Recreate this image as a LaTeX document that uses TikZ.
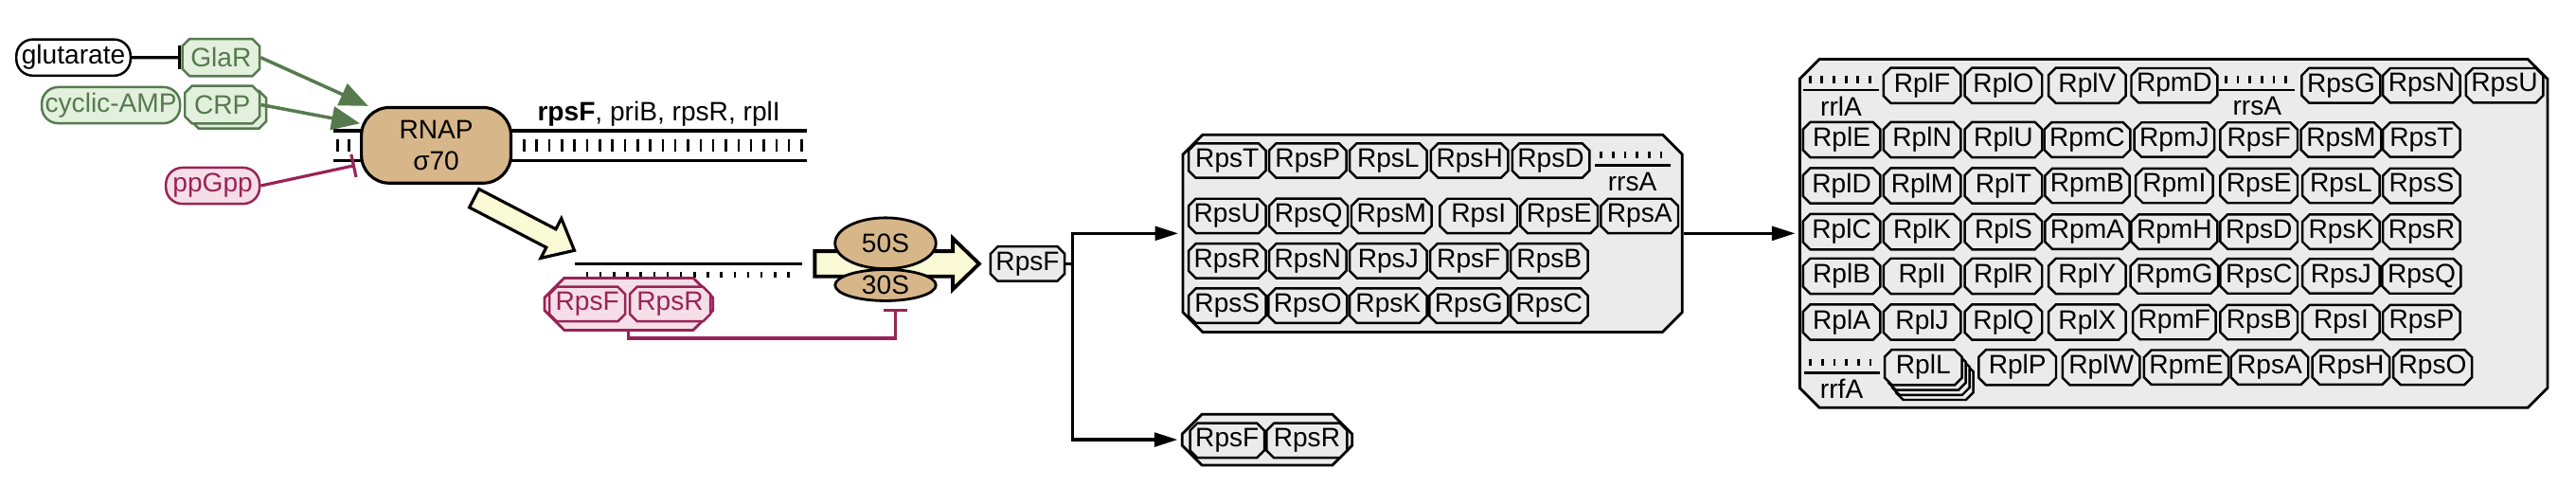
\documentclass[tikz,border=0pt]{standalone}
\usepackage{fontspec}
\setmainfont{Liberation Sans}
\usetikzlibrary{arrows.meta, shapes.misc, shapes.geometric, calc}
\definecolor{cverde}{RGB}{86,122,78}
\definecolor{cverdeclaro}{RGB}{226,240,221}
\definecolor{cvinho}{RGB}{153,35,85}
\definecolor{crosa}{RGB}{246,222,232}
\definecolor{cbege}{RGB}{215,183,138}
\definecolor{ccreme}{RGB}{250,250,214}
\definecolor{ccinza}{RGB}{235,235,235}
\newlength\pu
\setlength\pu{0.0173469cm}
% gene glyph: left x, line y, label, node name
\newcommand{\genebar}[4]{%
  \draw[line width=0.8pt] (#1,#2) -- ++(46,0);
  \foreach \k in {0,...,5}
    \draw[line width=0.8pt] ({#1+4+7.3*\k},#2-8.5) -- ++(0,4.2);
  \node[lbl] (#4) at ({#1+23},#2+10) {#3};
}
\def\colb{{1121,1170,1219.5,1270.5,1323.5,1375,1425,1474,1524.5}}

\begin{document}
\begin{tikzpicture}[x=0.0173469cm, y=-0.0173469cm,
    every node/.style={font=\fontsize{8}{9.5}\selectfont},
    prot/.style={chamfered rectangle, chamfered rectangle sep=2.2\pu, draw, line width=0.7pt, fill=ccinza, minimum width=47\pu, minimum height=21\pu, inner sep=0.5pt},
    cplx/.style={chamfered rectangle, chamfered rectangle sep=6\pu, draw, line width=0.8pt, fill=ccinza},
    pill/.style={draw, rounded corners=10\pu, line width=0.7pt, minimum height=22\pu, inner sep=1pt},
    greenprot/.style={prot, draw=cverde, fill=cverdeclaro, text=cverde},
    pinkprot/.style={prot, draw=cvinho, fill=crosa, text=cvinho},
    lbl/.style={inner sep=0pt},
    act/.style={-{Triangle[length=8.5pt,width=7pt]}, line width=1pt, draw=cverde},
    inh/.style={-{Bar[width=7pt]}, line width=0.9pt},
    arrow/.style={-{Triangle[length=7pt,width=4.2pt]}, line width=0.9pt, shorten >=2\pu},
    blockarrow/.style={draw, line width=0.9pt, fill=ccreme}
  ]
  \useasboundingbox (0,0) rectangle (1568,296);

  % DNA
  \draw[line width=1pt] (202.7,79.4) -- (491,79.4);
  \draw[line width=1pt] (202.7,97.6) -- (491,97.6);
  \foreach \x in {205.5,212.5}
    \draw[line width=0.7pt] (\x,84.5) -- ++(0,8);
  \foreach \k in {0,...,22}
    \draw[line width=0.7pt] ({319+7.68*\k},84.5) -- ++(0,8);

  \node[pill, minimum width=69.5\pu] (glut) at (44.7,35) {glutarate};
  \node[greenprot, minimum width=47\pu, minimum height=22.7\pu] (glar) at (134.5,35) {GlaR};
  \node[pill, draw=cverde, fill=cverdeclaro, text=cverde, minimum width=83.4\pu] (camp) at (67.5,64) {cyclic-AMP};
  \node[greenprot, minimum width=45.5\pu, minimum height=23\pu] (crp2) at (139.3,66.7) {\phantom{CRP}};
  \node[greenprot, minimum width=45.5\pu, minimum height=23\pu] (crp) at (135.3,63.7) {CRP};
  \node[pill, draw=cvinho, fill=crosa, text=cvinho, minimum width=57\pu] (ppgpp) at (129.5,113) {ppGpp};
  \node[draw, fill=cbege, line width=0.9pt, rounded corners=17\pu, minimum width=91\pu, minimum height=46\pu, align=center] (rnap) at (265.5,88.4) {RNAP\\σ70};
  \node[lbl] (genes) at (401,69.2) {\textbf{rpsF}, priB, rpsR, rplI};

  \draw[inh] (glut) -- (glar);
  \draw[act] (glar.east) -- (rnap.150);
  \draw[act] (crp.east) -- (rnap.164);
  \draw[inh, draw=cvinho, shorten >=3\pu] (ppgpp.east) -- (rnap.194);

  % transcription arrow
  \begin{scope}[shift={(288.6,120.6)}, rotate=-27.5]
    \draw[blockarrow] (0,-6.3) -- (52.8,-6.3) -- (52.8,-13.6) -- (68.8,0) -- (52.8,13.6) -- (52.8,6.3) -- (0,6.3) -- cycle;
  \end{scope}

  % mRNA
  \draw[line width=1pt] (349.7,160.5) -- (488,160.5);
  \foreach \k in {0,...,15}
    \draw[line width=0.7pt] ({357.4+8.17*\k},165.3) -- ++(0,3.8);

  \node[cplx, draw=cvinho, fill=crosa, minimum width=102.5\pu, minimum height=31.7\pu] (cxl) at (382.7,185) {};
  \node[pinkprot, minimum width=46\pu] (lRpsF) at (357.5,185) {RpsF};
  \node[pinkprot, minimum width=49\pu] (lRpsR) at (407.9,185) {RpsR};

  % ribosome
  \draw[blockarrow, line width=1.1pt] (496,152.8) -- (580,152.8) -- (580,145) -- (596,160.5) -- (580,176) -- (580,168.2) -- (496,168.2) -- cycle;
  \node[ellipse, draw, fill=cbege, line width=0.8pt, minimum width=61.4\pu, minimum height=31\pu, inner sep=0pt] (s50) at (539,148) {50S};
  \node[ellipse, draw, fill=cbege, line width=0.8pt, minimum width=61.4\pu, minimum height=19\pu, inner sep=0pt] (s30) at (539,173.5) {30S};
  \draw[inh, draw=cvinho] (cxl.south) |- ($(s30.south)+(6,22)$) -- ($(s30.south)+(6,4)$);

  \node[prot, minimum width=45\pu] (rpsf) at (625.5,160.5) {RpsF};

  % 30S complex
  \node[cplx, minimum width=304\pu, minimum height=120\pu] (cxa) at (872,142) {};
  \foreach \p/\x in {RpsT/747, RpsP/796, RpsL/845, RpsH/894.5, RpsD/944}
    \node[prot] (a\p) at (\x,97.7) {\p};
  \genebar{970.6}{100.5}{rrsA}{arrsA}
  \foreach \p/\x in {RpsU/747, RpsQ/796.5, RpsM/847, RpsI/900, RpsE/949, RpsA/998}
    \node[prot] (a\p) at (\x,131.4) {\p};
  \foreach \p/\x in {RpsR/747, RpsN/796, RpsJ/845, RpsF/894, RpsB/943}
    \node[prot] (a\p) at (\x,158.7) {\p};
  \foreach \p/\x in {RpsS/747, RpsO/796, RpsK/845, RpsG/894, RpsC/943}
    \node[prot] (a\p) at (\x,186) {\p};

  % 70S complex
  \node[cplx, minimum width=455.2\pu, minimum height=212\pu] (cxb) at (1323.1,142) {};
  \genebar{1097.7}{54.8}{rrlA}{brrlA}
  \foreach \p/\x in {RplF/1170, RplO/1219.5, RplV/1270.5, RpmD/1323.5, RpsG/1425, RpsN/1474, RpsU/1524.5}
    \node[prot] (b\p) at (\x,52) {\p};
  \genebar{1350.9}{54.8}{rrsA}{brrsA}
  \foreach \y/\names in {85/{RplE,RplN,RplU,RpmC,RpmJ,RpsF,RpsM,RpsT},
                         113/{RplD,RplM,RplT,RpmB,RpmI,RpsE,RpsL,RpsS},
                         141/{RplC,RplK,RplS,RpmA,RpmH,RpsD,RpsK,RpsR},
                         168/{RplB,RplI,RplR,RplY,RpmG,RpsC,RpsJ,RpsQ},
                         196/{RplA,RplJ,RplQ,RplX,RpmF,RpsB,RpsI,RpsP}}
    \foreach \p [count=\i from 0] in \names
      \node[prot] (b\p) at ({\colb[\i]},\y) {\p};
  \genebar{1098}{226.7}{rrfA}{brrfA}
  \foreach \k in {3,2,1}
    \node[prot] (bRplL\k) at ({1170.7+2.3*\k},{223.5+3*\k}) {\phantom{RplL}};
  \node[prot] (bRplL) at (1170.7,223.5) {RplL};
  \foreach \p/\x in {RplP/1228, RplW/1279, RpmE/1330.8, RpsA/1381.5, RpsH/1431, RpsO/1480.7}
    \node[prot] (b\p) at (\x,223.5) {\p};

  % free RpsF-RpsR complex
  \node[cplx, minimum width=103.4\pu, minimum height=31\pu] (cxc) at (771.3,267.5) {};
  \node[prot, minimum width=45\pu] (cRpsF) at (747,268) {RpsF};
  \node[prot, minimum width=49\pu] (cRpsR) at (795.5,268) {RpsR};

  \coordinate (br) at (653,160.5);
  \draw[line width=0.9pt] (rpsf.east) -- (br);
  \draw[arrow] (br) |- (cxa.west);
  \draw[arrow] (br) |- (cxc.west);
  \draw[arrow] (cxa.east) -- (cxb.west);
\end{tikzpicture}
\end{document}
